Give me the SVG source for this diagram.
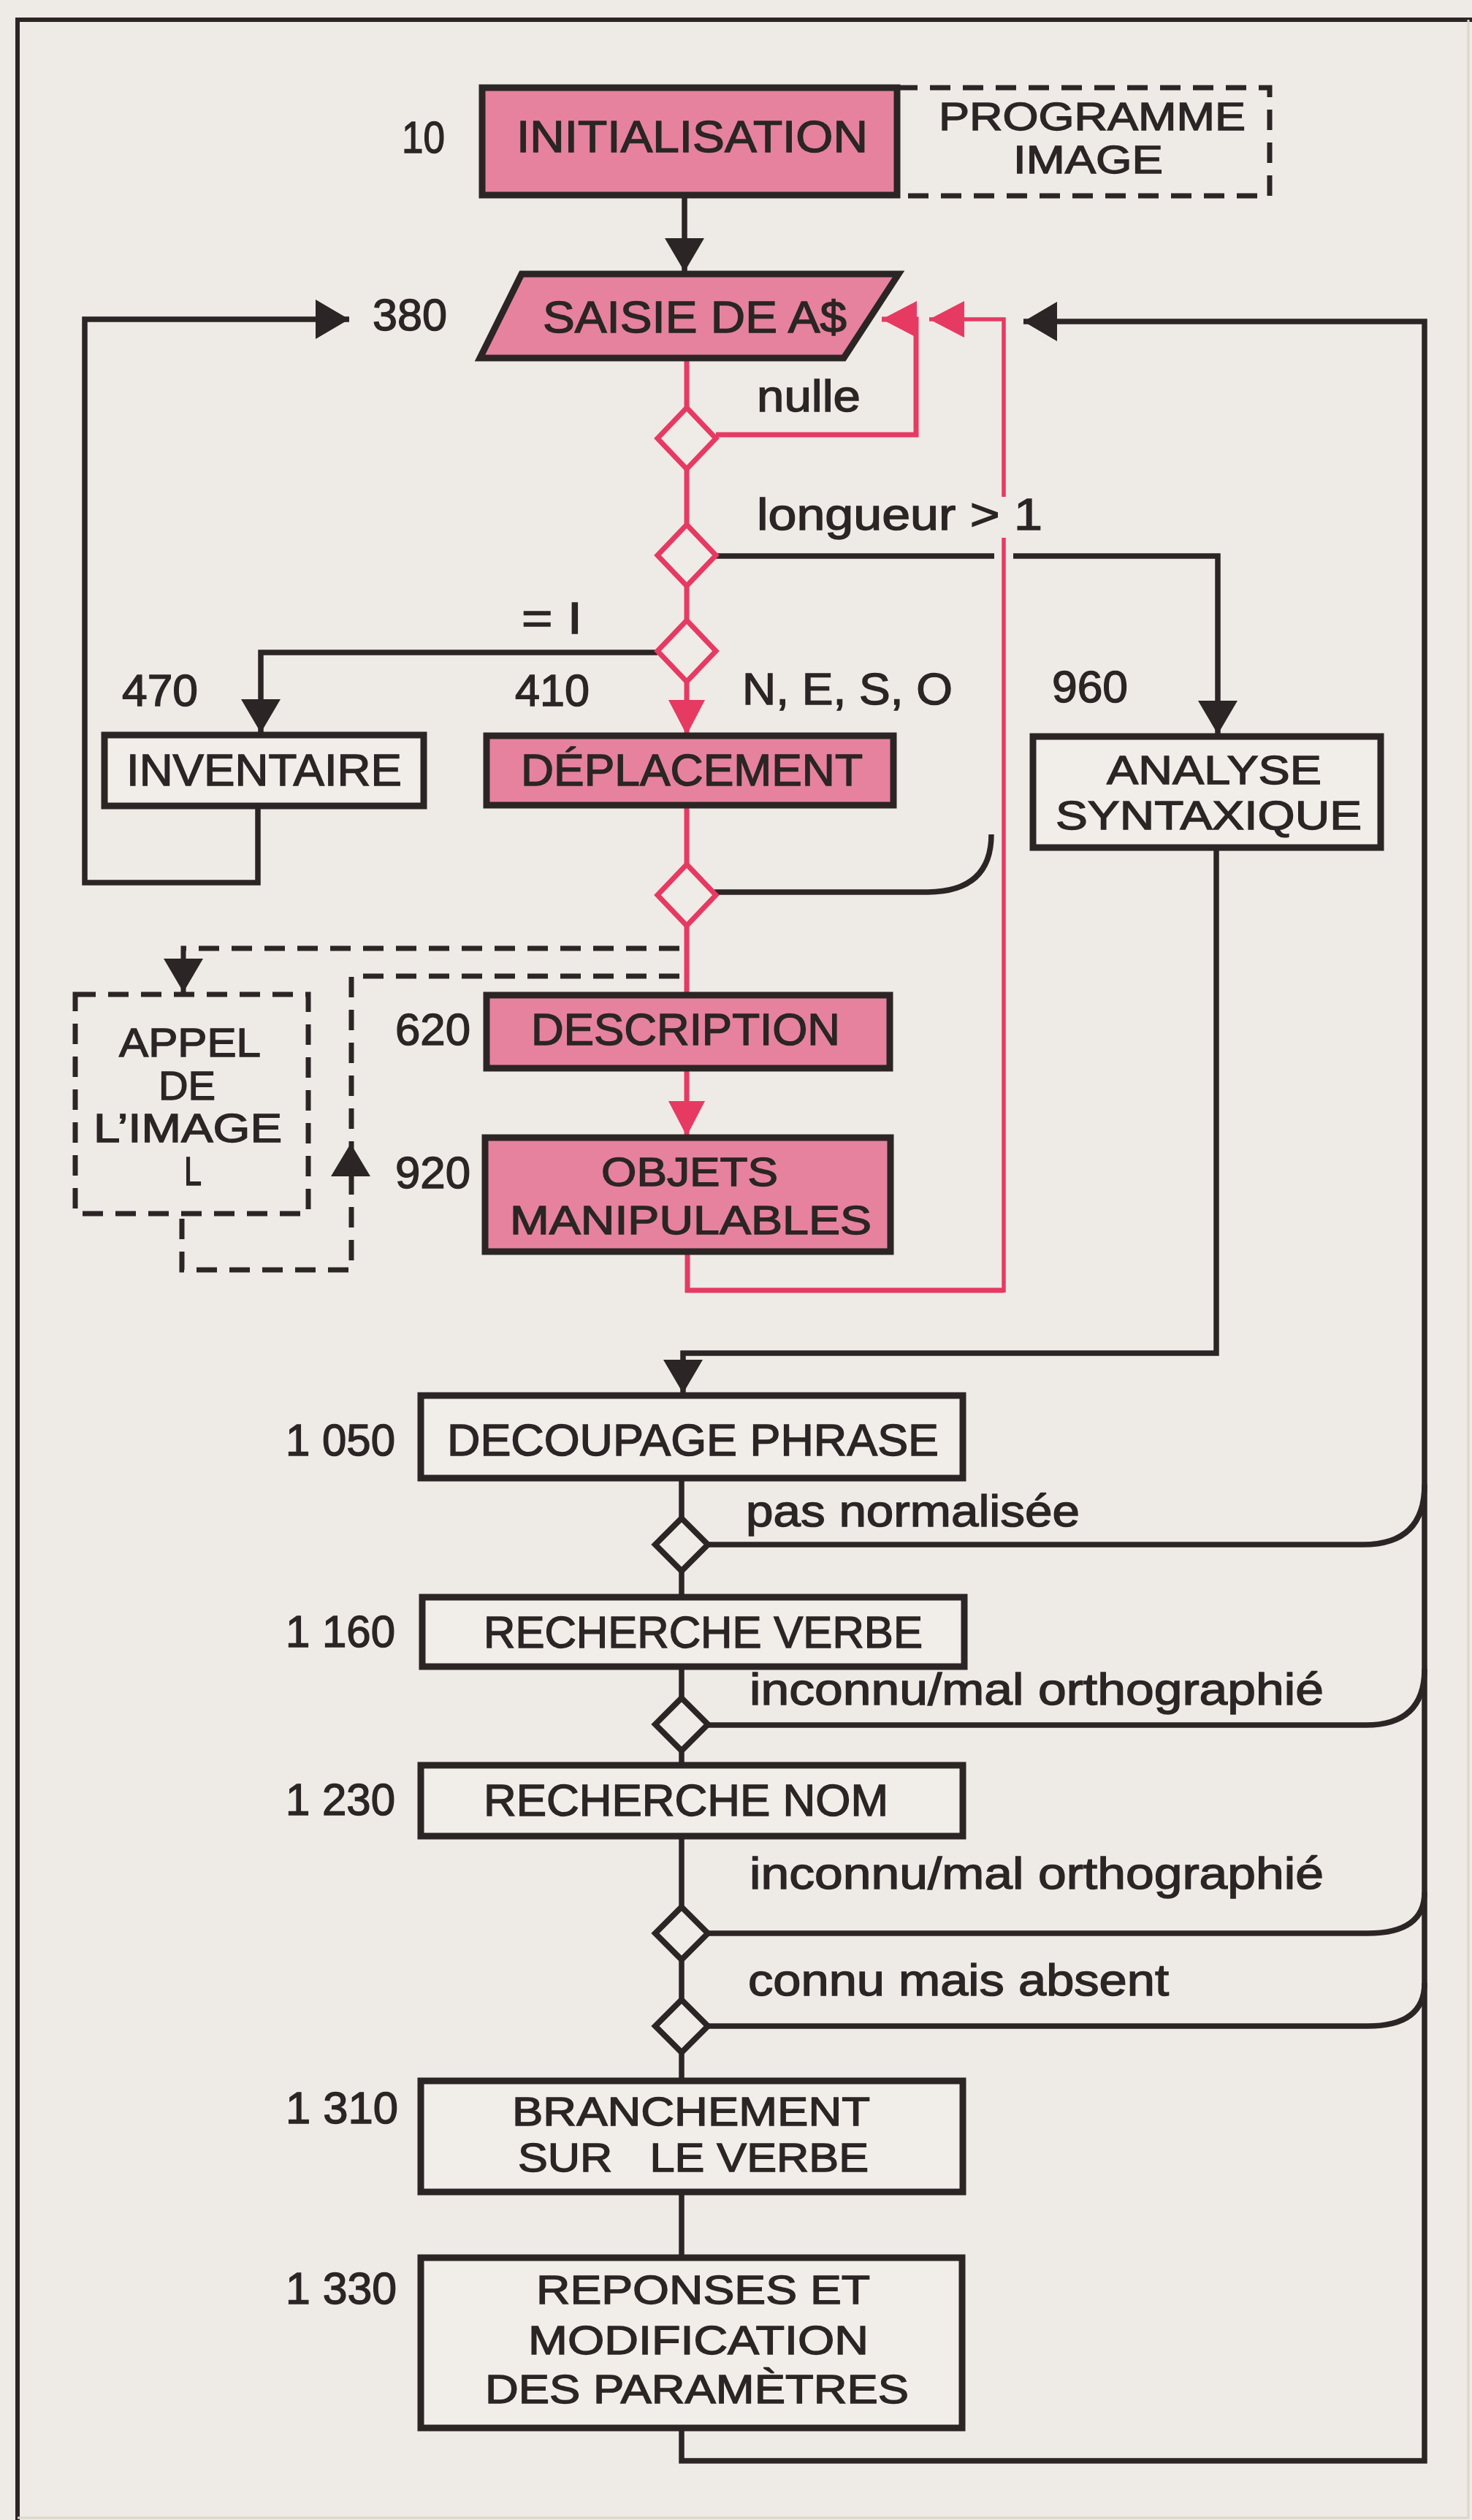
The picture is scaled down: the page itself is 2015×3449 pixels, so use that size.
<svg xmlns="http://www.w3.org/2000/svg" width="2015" height="3449" viewBox="0 0 2015 3449">
<defs>
<style>
.t{font-family:"Liberation Sans",Arial,Helvetica,sans-serif;fill:#2b2525;font-size:61px;stroke:#2b2525;stroke-width:1.4}
.s56{font-size:56px}
.s54{font-size:54px}
.bx{fill:#f1ede9;stroke:#2b2525;stroke-width:9}
.pk{fill:#e6829d;stroke:#2b2525;stroke-width:9}
.dash{fill:none;stroke:#2b2525;stroke-width:7;stroke-dasharray:28 17}
.bl{fill:none;stroke:#2b2525;stroke-width:7.5}
.rd{fill:none;stroke:#e63a62;stroke-width:7}
.rdt{fill:none;stroke:#e63a62;stroke-width:5.5}
.rdia{fill:#efebe7;stroke:#e63a62;stroke-width:7}
.bdia{fill:#efebe7;stroke:#2b2525;stroke-width:8}
</style>
<marker id="ab" viewBox="0 0 46 54" refX="46" refY="27" markerWidth="46" markerHeight="54" markerUnits="userSpaceOnUse" orient="auto"><path d="M0,0 L46,27 L0,54 z" fill="#2b2525"/></marker>
<marker id="ar" viewBox="0 0 48 50" refX="48" refY="25" markerWidth="48" markerHeight="50" markerUnits="userSpaceOnUse" orient="auto"><path d="M0,0 L48,25 L0,50 z" fill="#e63a62"/></marker>
</defs>
<rect width="2015" height="3449" fill="#eeeae6"/>
<g id="frame">
<path d="M24,3449 V27 H2015" fill="none" stroke="#2b2525" stroke-width="6"/>
<path d="M2010,27 V3446 H24" fill="none" stroke="#dcd6ca" stroke-width="3"/>
</g>
<g id="connectors">
<path class="bl" d="M937,267 V372" marker-end="url(#ab)"/>
<path class="bl" d="M353,1103 V1208 H116 V437 H478" marker-end="url(#ab)"/>
<path class="bl" d="M900,893 H357 V1003" marker-end="url(#ab)"/>
<path class="bl" d="M980,761 H1667 V1005" marker-end="url(#ab)"/>
<path class="bl" d="M1665,1160 V1852 H935 V1907" marker-end="url(#ab)"/>
<path class="bl" d="M933,2023 V2186 M933,2281 V2416 M933,2513 V2848 M933,3000 V3090"/>
<path class="bl" d="M933,3323 V3368 H1950 V440 H1401" marker-end="url(#ab)"/>
<path class="bl" d="M968,2114 H1866 Q1950,2114 1950,2032"/>
<path class="bl" d="M968,2361 H1870 Q1950,2361 1950,2284"/>
<path class="bl" d="M968,2646 H1872 Q1950,2646 1950,2590"/>
<path class="bl" d="M968,2773 H1872 Q1950,2773 1950,2714"/>
<path class="bl" d="M978,1221 H1268 Q1357,1221 1357,1142"/>
<path class="dash" d="M930,1298 H251 V1358" marker-end="url(#ab)"/>
<path class="dash" d="M930,1336 H481 V1738 H249 V1664"/>
<polygon points="480,1565 507,1610 453,1610" fill="#2b2525"/>
<line x1="1374" y1="748" x2="1374" y2="776" stroke="#eeeae6" stroke-width="26"/>
<path class="rd" d="M940,490 V1006" marker-end="url(#ar)"/>
<path class="rd" d="M940,1102 V1362"/>
<path class="rd" d="M940,1462 V1555" marker-end="url(#ar)"/>
<path class="rd" d="M980,595 H1254 V437 H1207" marker-end="url(#ar)"/>
<path class="rdt" d="M1374,680 V437 H1272" marker-end="url(#ar)"/>
<path class="rd" d="M941,1713 V1766 H1374"/>
<path class="rdt" d="M1374,1769 V736"/>
</g>
<g id="d1"><polygon class="rdia" points="940,558 980,600 940,642 900,600"/></g>
<g id="d2"><polygon class="rdia" points="940,718 980,760 940,802 900,760"/></g>
<g id="d3"><polygon class="rdia" points="940,849 980,891 940,933 900,891"/></g>
<g id="d4"><polygon class="rdia" points="940,1183 980,1225 940,1267 900,1225"/></g>
<g id="dA"><polygon class="bdia" points="933,2078 969,2114 933,2150 897,2114"/></g>
<g id="dB"><polygon class="bdia" points="933,2324 969,2360 933,2396 897,2360"/></g>
<g id="dC"><polygon class="bdia" points="933,2610 969,2646 933,2682 897,2646"/></g>
<g id="dD"><polygon class="bdia" points="933,2737 969,2773 933,2809 897,2773"/></g>

<g id="n10">
<rect class="pk" x="660" y="120" width="568" height="147"/>
<text class="t" x="550" y="209" textLength="59" lengthAdjust="spacingAndGlyphs">10</text>
<text class="t" x="707" y="208" textLength="481" lengthAdjust="spacingAndGlyphs">INITIALISATION</text>
</g>
<g id="prog">
<path class="dash" d="M1228,120 H1738 V268 H1228" stroke-width="6"/>
<text class="t s54" x="1285" y="178" textLength="420" lengthAdjust="spacingAndGlyphs">PROGRAMME</text>
<text class="t s54" x="1387" y="237" textLength="205" lengthAdjust="spacingAndGlyphs">IMAGE</text>
</g>
<g id="n380">
<polygon class="pk" points="714,375 1230,375 1155,490 657,490"/>
<text class="t" x="510" y="452" textLength="102" lengthAdjust="spacingAndGlyphs">380</text>
<text class="t" x="743" y="455" textLength="416" lengthAdjust="spacingAndGlyphs">SAISIE DE A$</text>
</g>
<g id="labels-top">
<text class="t" x="1036" y="563" textLength="142" lengthAdjust="spacingAndGlyphs">nulle</text>
<text class="t" x="1036" y="725" textLength="391" lengthAdjust="spacingAndGlyphs">longueur &gt; 1</text>
<text class="t" x="714" y="867" textLength="83" lengthAdjust="spacingAndGlyphs">= I</text>
<text class="t" x="1016" y="964" textLength="288" lengthAdjust="spacingAndGlyphs">N, E, S, O</text>
</g>
<g id="n470">
<rect class="bx" x="143" y="1006" width="437" height="97"/>
<text class="t" x="167" y="966" textLength="104" lengthAdjust="spacingAndGlyphs">470</text>
<text class="t" x="173" y="1075" textLength="377" lengthAdjust="spacingAndGlyphs">INVENTAIRE</text>
</g>
<g id="n410">
<rect class="pk" x="666" y="1007" width="557" height="95"/>
<text class="t" x="705" y="966" textLength="102" lengthAdjust="spacingAndGlyphs">410</text>
<text class="t" x="713" y="1075" textLength="468" lengthAdjust="spacingAndGlyphs">DÉPLACEMENT</text>
</g>
<g id="n960">
<rect class="bx" x="1414" y="1008" width="476" height="152"/>
<text class="t" x="1440" y="961" textLength="104" lengthAdjust="spacingAndGlyphs">960</text>
<text class="t s56" x="1515" y="1073" textLength="294" lengthAdjust="spacingAndGlyphs">ANALYSE</text>
<text class="t s56" x="1445" y="1135" textLength="419" lengthAdjust="spacingAndGlyphs">SYNTAXIQUE</text>
</g>
<g id="appel">
<rect class="dash" x="103" y="1361" width="319" height="300"/>
<text class="t s56" x="163" y="1446" textLength="194" lengthAdjust="spacingAndGlyphs">APPEL</text>
<text class="t s56" x="217" y="1505" textLength="78" lengthAdjust="spacingAndGlyphs">DE</text>
<text class="t s56" x="128" y="1563" textLength="258" lengthAdjust="spacingAndGlyphs">L’IMAGE</text>
<text class="t s56" x="252" y="1622" textLength="24" lengthAdjust="spacingAndGlyphs">L</text>
</g>
<g id="n620">
<rect class="pk" x="666" y="1362" width="552" height="100"/>
<text class="t" x="541" y="1430" textLength="103" lengthAdjust="spacingAndGlyphs">620</text>
<text class="t" x="727" y="1430" textLength="423" lengthAdjust="spacingAndGlyphs">DESCRIPTION</text>
</g>
<g id="n920">
<rect class="pk" x="664" y="1557" width="555" height="156"/>
<text class="t" x="541" y="1626" textLength="103" lengthAdjust="spacingAndGlyphs">920</text>
<text class="t s56" x="823" y="1623" textLength="242" lengthAdjust="spacingAndGlyphs">OBJETS</text>
<text class="t s56" x="698" y="1689" textLength="495" lengthAdjust="spacingAndGlyphs">MANIPULABLES</text>
</g>
<g id="n1050">
<rect class="bx" x="576" y="1910" width="742" height="113"/>
<text class="t" x="391" y="1992" textLength="150" lengthAdjust="spacingAndGlyphs">1 050</text>
<text class="t" x="612" y="1992" textLength="673" lengthAdjust="spacingAndGlyphs">DECOUPAGE PHRASE</text>
</g>
<g id="labels-bottom">
<text class="t" x="1021" y="2089" textLength="457" lengthAdjust="spacingAndGlyphs">pas normalisée</text>
<text class="t" x="1026" y="2333" textLength="786" lengthAdjust="spacingAndGlyphs">inconnu/mal orthographié</text>
<text class="t" x="1026" y="2585" textLength="786" lengthAdjust="spacingAndGlyphs">inconnu/mal orthographié</text>
<text class="t" x="1024" y="2731" textLength="576" lengthAdjust="spacingAndGlyphs">connu mais absent</text>
</g>
<g id="n1160">
<rect class="bx" x="578" y="2186" width="742" height="95"/>
<text class="t" x="391" y="2254" textLength="150" lengthAdjust="spacingAndGlyphs">1 160</text>
<text class="t" x="662" y="2255" textLength="601" lengthAdjust="spacingAndGlyphs">RECHERCHE VERBE</text>
</g>
<g id="n1230">
<rect class="bx" x="576" y="2416" width="742" height="97"/>
<text class="t" x="391" y="2484" textLength="150" lengthAdjust="spacingAndGlyphs">1 230</text>
<text class="t" x="662" y="2485" textLength="554" lengthAdjust="spacingAndGlyphs">RECHERCHE NOM</text>
</g>
<g id="n1310">
<rect class="bx" x="576" y="2848" width="742" height="152"/>
<text class="t" x="391" y="2906" textLength="154" lengthAdjust="spacingAndGlyphs">1 310</text>
<text class="t s56" x="701" y="2909" textLength="490" lengthAdjust="spacingAndGlyphs">BRANCHEMENT</text>
<text class="t s56" x="709" y="2972" textLength="480" lengthAdjust="spacingAndGlyphs" xml:space="preserve">SUR   LE VERBE</text>
</g>
<g id="n1330">
<rect class="bx" x="576" y="3090" width="741" height="233"/>
<text class="t" x="391" y="3153" textLength="152" lengthAdjust="spacingAndGlyphs">1 330</text>
<text class="t s56" x="734" y="3153" textLength="457" lengthAdjust="spacingAndGlyphs">REPONSES ET</text>
<text class="t s56" x="723" y="3222" textLength="466" lengthAdjust="spacingAndGlyphs">MODIFICATION</text>
<text class="t s56" x="664" y="3289" textLength="580" lengthAdjust="spacingAndGlyphs">DES PARAMÈTRES</text>
</g>
</svg>
